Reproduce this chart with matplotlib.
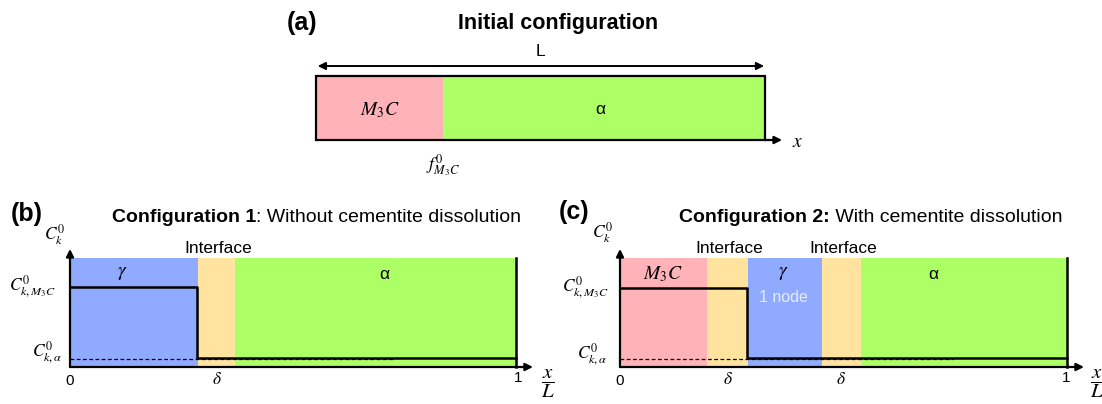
import matplotlib
matplotlib.use("Agg")
import matplotlib.pyplot as plt

plt.rcParams['font.family'] = ['Liberation Sans', 'DejaVu Sans']
plt.rcParams['mathtext.fontset'] = 'stix'

W, H = 1102, 404

# ---------------- data ----------------
# Panel (a): initial configuration (fractions of L)
a_labels = ["$M_3C$", "α"]
a_bounds = [0.0, 0.283, 1.0]
a_colors = ["#FFB3B8", "#ADFF66"]

# Panel (b): configuration 1 (x/L)
b_labels = ["$\\gamma$", "Interface", "α"]
b_bounds = [0.0, 0.287, 0.370, 1.0]
b_colors = ["#8FAAFF", "#FFE39E", "#ADFF66"]
b_step = 0.285
b_high, b_low = 0.734, 0.08
b_ref_level, b_ref_end = 0.07, 0.724

# Panel (c): configuration 2 (x/L)
c_labels = ["$M_3C$", "Interface", "$\\gamma$", "Interface", "α"]
c_bounds = [0.0, 0.195, 0.286, 0.452, 0.539, 1.0]
c_colors = ["#FFB3B8", "#FFE39E", "#8FAAFF", "#FFE39E", "#ADFF66"]
c_step = 0.284
c_high, c_low = 0.725, 0.08
c_ref_level, c_ref_end = 0.07, 0.745

ytick_labels = ["$C^0_{k,M_3C}$", "$C^0_{k,\\alpha}$"]
xtick_labels = ["0", "1"]


def px_ax(left, top, right, bottom):
    return [left / W, 1 - bottom / H, (right - left) / W, (bottom - top) / H]


def arrow(ax, x0, y0, x1, y1, style='-|>', lw=1.6):
    ax.annotate('', xy=(x1, y1), xytext=(x0, y0),
                arrowprops=dict(arrowstyle=style, lw=lw, color='k',
                                mutation_scale=11, shrinkA=0, shrinkB=0),
                annotation_clip=False)


fig = plt.figure(figsize=(W / 100, H / 100), dpi=100)

# ---------------- panel (a) ----------------
ax_a = fig.add_axes(px_ax(316, 76, 765, 140))
ax_a.set_xlim(0, 1)
ax_a.set_ylim(0, 1)
ax_a.axis('off')
for i, col in enumerate(a_colors):
    ax_a.axvspan(a_bounds[i], a_bounds[i + 1], color=col, lw=0)
ax_a.plot([0, 0, 1, 1], [0, 1, 1, 0], color='k', lw=1.6, clip_on=False,
          solid_joinstyle='miter')
arrow(ax_a, 0, 0, 1.038, 0)
arrow(ax_a, 0.004, 1.156, 0.998, 1.156, style='<|-|>', lw=1.4)
ax_a.text(0.499, 1.39, "L", ha='center', va='center', fontsize=12.5)
ax_a.text((a_bounds[0] + a_bounds[1]) / 2, 0.47, a_labels[0], ha='center',
          va='center', fontsize=14)
ax_a.text(0.633, 0.47, a_labels[1], ha='center', va='center', fontsize=12.5)
ax_a.text(a_bounds[1], -0.40, "$f^0_{M_3C}$", ha='center', va='center',
          fontsize=13)
ax_a.text(1.073, -0.04, "$x$", ha='center', va='center', fontsize=14)

fig.text(302 / W, 1 - 23 / H, "(a)", ha='center', va='center',
         fontsize=18, weight='bold')
fig.text(558 / W, 1 - 23 / H, "Initial configuration", ha='center',
         va='center', fontsize=15.5, weight='bold')


def draw_profile(ax, bounds, colors, step, high, low, ref_level, ref_end):
    ax.set_xlim(0, 1)
    ax.set_ylim(0, 1)
    ax.axis('off')
    for i, col in enumerate(colors):
        ax.axvspan(bounds[i], bounds[i + 1], color=col, lw=0)
    ax.plot([1, 1], [0, 1], color='k', lw=1.8, clip_on=False)
    ax.hlines(ref_level, 0, ref_end, colors='k', lw=0.9,
              linestyles=(0, (3, 2)))
    ax.plot([0, step, step, 1], [high, high, low, low], color='k', lw=1.8,
            clip_on=False)
    arrow(ax, 0, 0, 0, 1.083)
    arrow(ax, 0, 0, 1.038, 0)


# ---------------- panel (b) ----------------
ax_b = fig.add_axes(px_ax(70, 258, 516, 367))
draw_profile(ax_b, b_bounds, b_colors, b_step, b_high, b_low,
             b_ref_level, b_ref_end)
ax_b.text(-0.034, 1.211, "$C^0_k$", ha='center', va='center', fontsize=12.5)
ax_b.text(-0.085, b_high, ytick_labels[0], ha='center', va='center',
          fontsize=12.5)
ax_b.text(-0.052, 0.128, ytick_labels[1], ha='center', va='center',
          fontsize=12.5)
ax_b.text(0.0, -0.13, xtick_labels[0], ha='center', va='center', fontsize=11)
ax_b.text(1.004, -0.10, xtick_labels[1], ha='center', va='center', fontsize=11)
ob = (b_bounds[1] + b_bounds[2]) / 2
ax_b.text(ob, -0.11, "$\\delta$", ha='center', va='center', fontsize=12.5)
ax_b.text(ob + 0.005, 1.083, b_labels[1], ha='center', va='center',
          fontsize=12.5)
ax_b.text(0.117, 0.86, b_labels[0], ha='center', va='center', fontsize=14)
ax_b.text(0.704, 0.85, b_labels[2], ha='center', va='center', fontsize=12.5)
ax_b.text(1.072, -0.156, "$\\dfrac{x}{L}$", ha='center', va='center',
          fontsize=15)

fig.text(27 / W, 1 - 214 / H, "(b)", ha='center', va='center',
         fontsize=18, weight='bold')
t1 = fig.text(112 / W, 1 - 217 / H, "Configuration 1", ha='left',
              va='center', fontsize=14, weight='bold')
ax_b.annotate(": Without cementite dissolution", xy=(1, 0), xycoords=t1,
              ha='left', va='bottom', fontsize=14, annotation_clip=False)

# ---------------- panel (c) ----------------
ax_c = fig.add_axes(px_ax(620, 258, 1067, 367))
draw_profile(ax_c, c_bounds, c_colors, c_step, c_high, c_low,
             c_ref_level, c_ref_end)
ax_c.text(-0.038, 1.229, "$C^0_k$", ha='center', va='center', fontsize=12.5)
ax_c.text(-0.076, c_high, ytick_labels[0], ha='center', va='center',
          fontsize=12.5)
ax_c.text(-0.063, 0.11, ytick_labels[1], ha='center', va='center',
          fontsize=12.5)
ax_c.text(0.0, -0.13, xtick_labels[0], ha='center', va='center', fontsize=11)
ax_c.text(0.998, -0.10, xtick_labels[1], ha='center', va='center', fontsize=11)
for k in (1, 3):
    oc = (c_bounds[k] + c_bounds[k + 1]) / 2
    ax_c.text(oc, -0.11, "$\\delta$", ha='center', va='center', fontsize=12.5)
    ax_c.text(oc + 0.005, 1.083, c_labels[k], ha='center', va='center',
              fontsize=12.5)
ax_c.text(0.096, 0.85, c_labels[0], ha='center', va='center', fontsize=14)
ax_c.text(0.365, 0.86, c_labels[2], ha='center', va='center', fontsize=14)
ax_c.text(0.365, 0.642, "1 node", ha='center', va='center', fontsize=11.5,
          color='#E6ECFF')
ax_c.text(0.702, 0.85, c_labels[4], ha='center', va='center', fontsize=12.5)
ax_c.text(1.067, -0.156, "$\\dfrac{x}{L}$", ha='center', va='center',
          fontsize=15)

fig.text(574 / W, 1 - 212 / H, "(c)", ha='center', va='center',
         fontsize=18, weight='bold')
t2 = fig.text(679 / W, 1 - 217 / H, "Configuration 2:", ha='left',
              va='center', fontsize=14, weight='bold')
ax_c.annotate(" With cementite dissolution", xy=(1, 0), xycoords=t2,
              ha='left', va='bottom', fontsize=14, annotation_clip=False)

fig.savefig("out.png", dpi=100)
